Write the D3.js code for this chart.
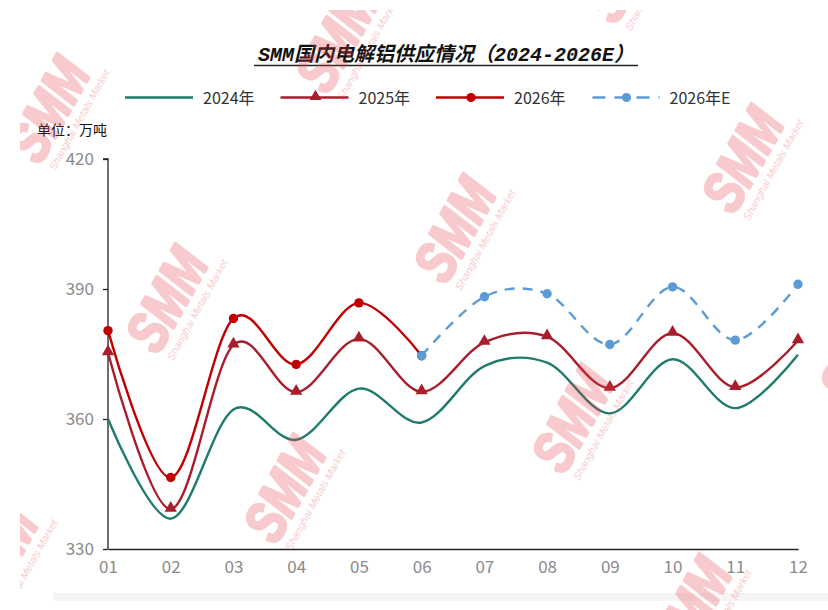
<!DOCTYPE html>
<html>
<head>
<meta charset="utf-8">
<script src="https://cdn.jsdelivr.net/npm/d3@7/dist/d3.min.js"></script>
<style>
  html, body { margin: 0; padding: 0; background: #fff; }
  svg { display: block; }
</style>
</head>
<body>
<svg id="chart" width="828" height="610"></svg>
<script>
// ---------- data ----------
const months = ["01","02","03","04","05","06","07","08","09","10","11","12"];
const s2024  = [360, 337, 362.2, 355.2, 367, 359.2, 372.2, 373, 361.3, 373.8, 362.5, 374.8];
const s2025  = [375.3, 339.2, 377.1, 366.2, 378.5, 366.3, 377.7, 379, 367.1, 379.8, 367.3, 378.1];
const s2026  = [380.4, 346.5, 383.2, 372.6, 386.8, 374.6, null, null, null, null, null, null];
const s2026E = [null, null, null, null, null, 374.6, 388.2, 388.9, 377.2, 390.5, 378.2, 391.1];
const yTicks = [330, 360, 390, 420];
const seriesNames = ["2024年", "2025年", "2026年", "2026年E"];
const title = "SMM国内电解铝供应情况（2024-2026E）";
const unitLabel = "单位：万吨";
const wmMain = "SMM";
const wmSub = "Shanghai Metals Market";

// ---------- layout ----------
const svg = d3.select("#chart");
const W = 828, H = 610;
const plot = { left: 108, right: 798, top: 159, bottom: 549 };

const x = d3.scalePoint().domain(months).range([plot.left, plot.right]);
const y = d3.scaleLinear().domain([330, 420]).range([plot.bottom, plot.top]);

const series = [
  { name: seriesNames[0], values: s2024,  color: "#1f7b6c", marker: null,       dash: null },
  { name: seriesNames[1], values: s2025,  color: "#a81e2c", marker: "triangle", dash: null },
  { name: seriesNames[2], values: s2026,  color: "#c00000", marker: "circle",   dash: null },
  { name: seriesNames[3], values: s2026E, color: "#5b9bd5", marker: "circle",   dash: "10,8" }
];

const FONT = "'Noto Sans CJK SC', 'Noto Sans', sans-serif";

// bottom faint band
svg.append("rect").attr("x", 53).attr("y", 593).attr("width", W - 53).attr("height", 8)
  .attr("fill", "#f5f5f5");

// ---------- title ----------
svg.append("text")
  .attr("x", 446).attr("y", 61)
  .attr("text-anchor", "middle")
  .attr("font-family", "'Liberation Mono', 'Noto Sans CJK SC', monospace")
  .attr("font-size", 20).attr("font-weight", "bold").attr("font-style", "italic")
  .attr("fill", "#111")
  .text(title);
svg.append("line").attr("x1", 254).attr("x2", 638).attr("y1", 65.5).attr("y2", 65.5)
  .attr("stroke", "#222").attr("stroke-width", 1.3);

// ---------- legend ----------
const legend = svg.append("g");
series.forEach((s, i) => {
  const x0 = 125 + i * 155.5, yL = 97.5;
  const g = legend.append("g");
  g.append("line").attr("x1", x0).attr("x2", x0 + 68).attr("y1", yL).attr("y2", yL)
    .attr("stroke", s.color).attr("stroke-width", 2.4)
    .attr("stroke-dasharray", s.dash ? "13,9" : null)
    .attr("stroke-dashoffset", s.dash ? -1 : null);
  if (s.marker === "triangle") {
    g.append("path").attr("d", d3.symbol(d3.symbolTriangle, 60)())
      .attr("transform", `translate(${x0 + 35},${yL - 1})`).attr("fill", s.color);
  } else if (s.marker === "circle") {
    g.append("circle").attr("cx", x0 + 35).attr("cy", yL).attr("r", 4.6).attr("fill", s.color);
  }
  g.append("text").attr("x", x0 + 78).attr("y", yL + 6)
    .attr("font-family", FONT).attr("font-size", 16).attr("fill", "#333")
    .text(s.name);
});

// unit label
svg.append("text").attr("x", 37).attr("y", 135)
  .attr("font-family", FONT).attr("font-size", 14).attr("fill", "#111")
  .text(unitLabel);

// ---------- axes ----------
const yAxis = d3.axisLeft(y).tickValues(yTicks).tickSize(5).tickPadding(9).tickFormat(d3.format("d"));
const gy = svg.append("g").attr("transform", `translate(${plot.left},0)`).call(yAxis);
gy.select(".domain").attr("stroke", "#222").attr("stroke-width", 1.3).attr("d", `M-5,${plot.top}H0V${plot.bottom}`);
gy.selectAll(".tick line").attr("stroke", "#222").attr("stroke-width", 1.3);
gy.selectAll(".tick text").attr("font-family", FONT).attr("font-size", 17).attr("fill", "#8a8a8a");

const xAxis = d3.axisBottom(x).tickSize(0).tickPadding(12);
const gx = svg.append("g").attr("transform", `translate(0,${plot.bottom})`).call(xAxis);
gx.select(".domain").attr("stroke", "#222").attr("stroke-width", 1.3);
gx.selectAll(".tick text").attr("font-family", FONT).attr("font-size", 17).attr("fill", "#8a8a8a");

// ---------- series ----------
const line = d3.line()
  .defined(d => d.v != null)
  .x(d => x(d.m)).y(d => y(d.v))
  .curve(d3.curveCardinal.tension(0));

series.forEach(s => {
  const pts = months.map((m, i) => ({ m, v: s.values[i] }));
  svg.append("path").datum(pts)
    .attr("d", line)
    .attr("fill", "none")
    .attr("stroke", s.color).attr("stroke-width", 2.4)
    .attr("stroke-dasharray", s.dash);
  const valid = pts.filter(d => d.v != null);
  if (s.marker === "triangle") {
    svg.append("g").selectAll("path").data(valid).join("path")
      .attr("d", d3.symbol(d3.symbolTriangle, 66)())
      .attr("transform", d => `translate(${x(d.m)},${y(d.v) - 1})`)
      .attr("fill", s.color);
  } else if (s.marker === "circle") {
    svg.append("g").selectAll("circle").data(valid).join("circle")
      .attr("cx", d => x(d.m)).attr("cy", d => y(d.v)).attr("r", 4.7)
      .attr("fill", s.color);
  }
});

// ---------- watermarks ----------
const defs = svg.append("defs");
defs.append("clipPath").attr("id", "wmclip")
  .append("rect").attr("x", 20).attr("y", 10).attr("width", W - 20).attr("height", H - 10);
const wm = svg.append("g").attr("clip-path", "url(#wmclip)").attr("pointer-events", "none");
const base = [167, 300], va = [288, -70], vb = [118, 190];
for (let i = -2; i <= 3; i++) {
  for (let j = -2; j <= 3; j++) {
    const cx = base[0] + i * va[0] + j * vb[0];
    const cy = base[1] + i * va[1] + j * vb[1];
    if (cx < -30 || cx > 880 || cy < -40 || cy > 650) continue;
    const g = wm.append("g").attr("transform", `translate(${cx},${cy}) rotate(-61)`)
      .attr("opacity", 0.27);
    g.append("text").attr("x", 0).attr("y", 16).attr("text-anchor", "middle")
      .attr("transform", "scale(0.95,1.2)")
      .attr("font-family", "'Liberation Sans', Arial, sans-serif")
      .attr("font-size", 48).attr("font-weight", "bold").attr("font-style", "italic")
      .attr("fill", "#e8404a").attr("stroke", "#e8404a").attr("stroke-width", 2.5)
      .attr("stroke-linejoin", "round")
      .text(wmMain);
    g.append("text").attr("x", 6).attr("y", 35).attr("text-anchor", "middle")
      .attr("font-family", "'Liberation Sans', Arial, sans-serif")
      .attr("font-size", 10.5).attr("font-style", "italic")
      .attr("fill", "#e8404a")
      .text(wmSub);
  }
}
</script>
</body>
</html>
